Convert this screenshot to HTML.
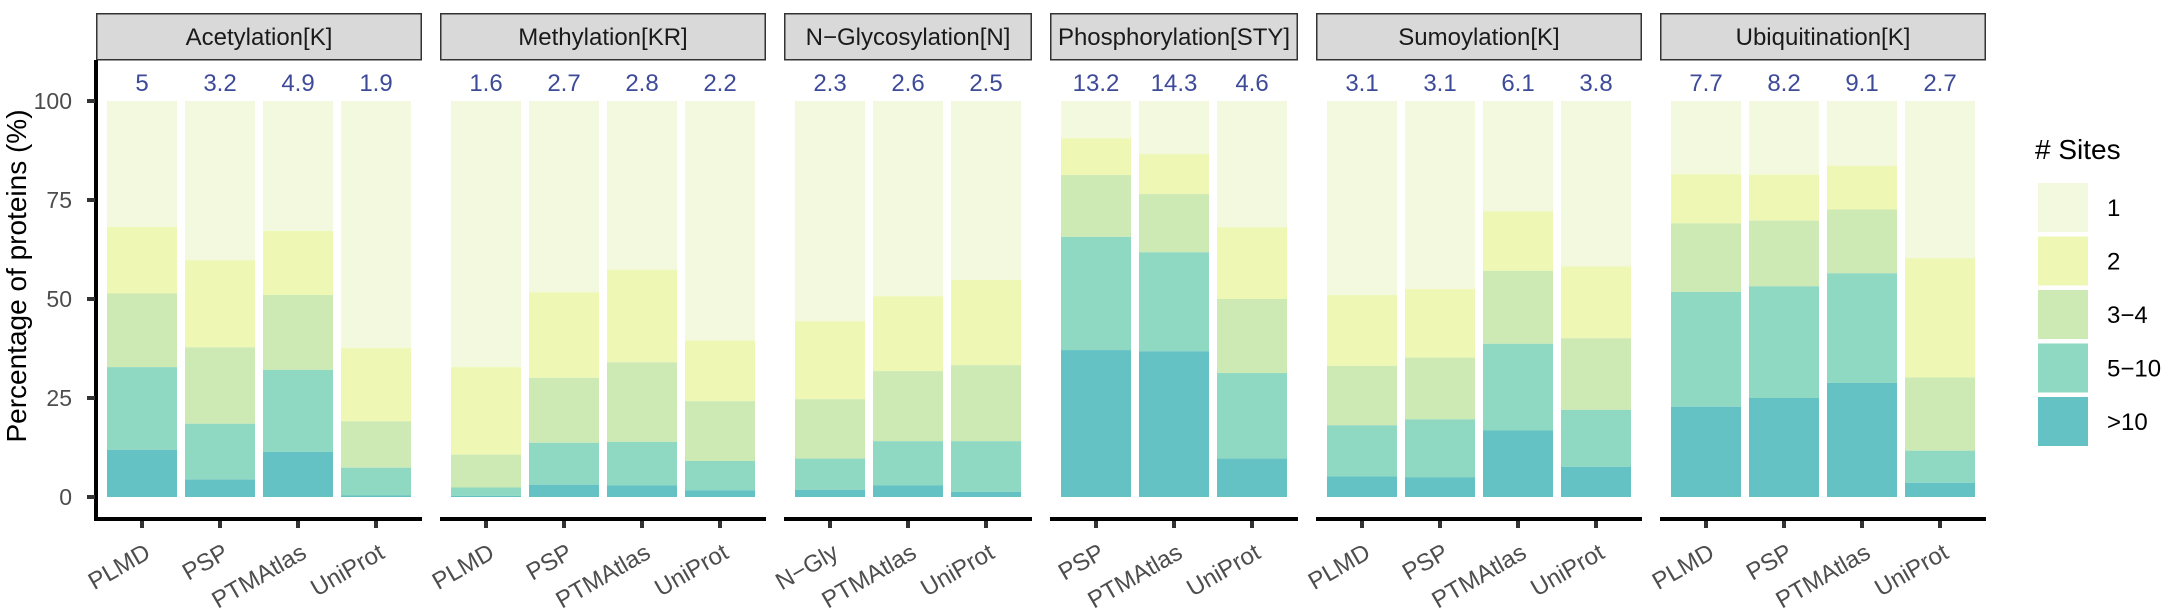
<!DOCTYPE html>
<html><head><meta charset="utf-8"><style>html,body{margin:0;padding:0;background:#fff}svg{display:block}</style></head>
<body>
<svg id="c" width="2168" height="609" viewBox="0 0 2168 609" xmlns="http://www.w3.org/2000/svg" font-family="Liberation Sans, Arial, sans-serif"></svg>
<script>
const C=["#f3f9de","#eef7b4","#cdeab4","#8fd8c1","#64c1c4"];
const panels=[
 {t:"Acetylation[K]",L:96,n:["5","3.2","4.9","1.9"],x:["PLMD","PSP","PTMAtlas","UniProt"],
  d:[[68.2,51.4,32.8,11.9],[59.8,37.8,18.5,4.4],[67.2,51.0,32.1,11.4],[37.6,19.1,7.4,0.4]]},
 {t:"Methylation[KR]",L:440,n:["1.6","2.7","2.8","2.2"],x:["PLMD","PSP","PTMAtlas","UniProt"],
  d:[[32.8,10.7,2.4,0.3],[51.7,30.1,13.7,3.1],[57.4,34.0,13.9,2.9],[39.5,24.2,9.1,1.7]]},
 {t:"N\u2212Glycosylation[N]",L:784,n:["2.3","2.6","2.5"],x:["N\u2212Gly","PTMAtlas","UniProt"],
  d:[[44.4,24.7,9.7,1.8],[50.7,31.8,14.1,2.9],[54.8,33.3,14.1,1.3]]},
 {t:"Phosphorylation[STY]",L:1050,n:["13.2","14.3","4.6"],x:["PSP","PTMAtlas","UniProt"],
  d:[[90.6,81.3,65.7,37.1],[86.6,76.5,61.8,36.8],[68.1,50.0,31.3,9.7]]},
 {t:"Sumoylation[K]",L:1316,n:["3.1","3.1","6.1","3.8"],x:["PLMD","PSP","PTMAtlas","UniProt"],
  d:[[51.0,33.1,18.1,5.2],[52.5,35.2,19.6,5.0],[72.1,57.1,38.7,16.8],[58.2,40.1,22.0,7.6]]},
 {t:"Ubiquitination[K]",L:1660,n:["7.7","8.2","9.1","2.7"],x:["PLMD","PSP","PTMAtlas","UniProt"],
  d:[[81.5,69.1,51.8,22.8],[81.4,69.8,53.2,25.0],[83.6,72.6,56.5,28.8],[60.3,30.2,11.7,3.6]]}
];
const Y=p=>497-p*3.96;
let s="";
for(const P of panels){
 const k=P.d.length, W=k*78-8+22;
 s+=`<rect x="${P.L+0.75}" y="13.75" width="${W-1.5}" height="46" fill="#d9d9d9" stroke="#333" stroke-width="1.5"/>`;
 s+=`<text x="${P.L+W/2}" y="45" font-size="24" text-anchor="middle" fill="#1a1a1a">${P.t}</text>`;
 P.d.forEach((b,i)=>{
  const x=P.L+11+i*78, cx=x+35;
  const cum=[100,...b,0];
  for(let j=0;j<5;j++){
   s+=`<rect x="${x}" y="${Y(cum[j])}" width="70" height="${Y(cum[j+1])-Y(cum[j])}" fill="${C[j]}"/>`;
  }
  s+=`<text x="${cx}" y="91" font-size="24" text-anchor="middle" fill="#3d4a98">${P.n[i]}</text>`;
  s+=`<rect x="${cx-2}" y="519" width="4" height="9" fill="#333"/>`;
  s+=`<text transform="translate(${cx+10},557) rotate(-30)" font-size="24" text-anchor="end" fill="#4d4d4d">${P.x[i]}</text>`;
 });
 s+=`<rect x="${P.L}" y="517" width="${W}" height="4" fill="#000"/>`;
}
s+=`<rect x="94" y="60" width="4" height="461" fill="#000"/>`;
[[100,"100"],[75,"75"],[50,"50"],[25,"25"],[0,"0"]].forEach(([v,t])=>{
 s+=`<rect x="87" y="${Y(v)-2}" width="8" height="4" fill="#333"/>`;
 s+=`<text x="72" y="${Y(v)+8}" font-size="23" text-anchor="end" fill="#4d4d4d">${t}</text>`;
});
s+=`<text transform="translate(26,276) rotate(-90)" font-size="28" text-anchor="middle" fill="#000">Percentage of proteins (%)</text>`;
s+=`<text x="2035" y="159" font-size="28" fill="#000"># Sites</text>`;
["1","2","3\u22124","5\u221210",">10"].forEach((t,i)=>{
 const y=183+i*53.5;
 s+=`<rect x="2038" y="${y}" width="50" height="49" fill="${C[i]}"/>`;
 s+=`<text x="2107" y="${y+33}" font-size="24" fill="#000">${t}</text>`;
});
document.getElementById("c").innerHTML=s;
</script>
</body></html>
